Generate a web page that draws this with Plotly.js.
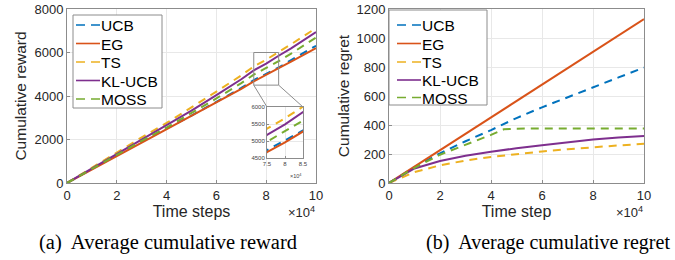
<!DOCTYPE html>
<html>
<head>
<meta charset="utf-8">
<script src="https://cdn.plot.ly/plotly-3.0.1.min.js"></script>
<style>html,body{margin:0;padding:0;background:#fff;}#chart{width:675px;height:260px;}</style>
</head>
<body>
<div id="chart"></div>
<script>
// ---- Data (time steps in units of 1e4) ----
const seriesNames = ["UCB", "EG", "TS", "KL-UCB", "MOSS"];
const seriesColors = ["#0072BD", "#D95319", "#EDB120", "#7E2F8E", "#77AC30"];
const seriesDashed = [true, false, true, false, true];

const tReward = [0, 1, 2, 3, 4, 5, 6, 7, 7.5, 8, 8.5, 9, 10];
const rewardUCB  = [0, 650, 1300, 1910, 2490, 3100, 3730, 4370, 4730, 5020, 5310, 5650, 6310];
const rewardEG   = [0, 620, 1240, 1860, 2460, 3080, 3700, 4330, 4670, 4960, 5280, 5580, 6200];
const rewardTS   = [0, 700, 1410, 2100, 2760, 3470, 4200, 4950, 5360, 5670, 6010, 6380, 7120];
const rewardKL   = [0, 660, 1330, 1990, 2640, 3330, 4040, 4770, 5180, 5490, 5850, 6190, 6940];
const rewardMOSS = [0, 650, 1300, 1940, 2550, 3210, 3890, 4590, 4980, 5290, 5600, 5950, 6690];

const tRegret = [0, 1, 2, 3, 4, 4.5, 5, 6, 7, 8, 9, 10];
const regretUCB  = [0, 110, 205, 288, 365, 408, 448, 522, 592, 660, 728, 796];
const regretEG   = [0, 113, 226, 339, 452, 508, 565, 678, 791, 904, 1017, 1130];
const regretTS   = [0, 75, 122, 155, 180, 190, 200, 217, 233, 248, 259, 270];
const regretKL   = [0, 100, 152, 188, 215, 228, 240, 261, 282, 300, 314, 325];
const regretMOSS = [0, 105, 195, 262, 332, 370, 375, 376, 376, 376, 376, 376];

const xTicks = [0, 2, 4, 6, 8, 10];
const rewardTicks = [0, 2000, 4000, 6000, 8000];
const regretTicks = [0, 200, 400, 600, 800, 1000, 1200];
const insetXTicks = [7.5, 8, 8.5];
const insetYTicks = [4500, 5000, 5500, 6000];
const captions = ["(a)  Average cumulative reward", "(b)  Average cumulative regret"];

const rewards = [rewardUCB, rewardEG, rewardTS, rewardKL, rewardMOSS];
const regrets = [regretUCB, regretEG, regretTS, regretKL, regretMOSS];

// ---- Layout geometry (paper fractions from pixels) ----
const W = 675, H = 260;
const px = v => v / W, py = v => 1 - v / H;
const dom1 = [px(67), px(316)];
const dom2 = [px(389), px(644)];
const domY = [py(183), py(9)];
const domIX = [px(267), px(303)];
const domIY = [py(158), py(107)];
const mainXRange = [0, 10], rewardRange = [0, 8000], regretRange = [0, 1200];
const insetXRange = [7.5, 8.5], insetYRange = [4500, 6000];

const SANS = "Liberation Sans, Arial, sans-serif";
const SERIF = "Liberation Serif, Times New Roman, serif";
const mainDash = "8px,6px";

const traces = [];
const addSet = (xs, ys, xa, ya) => seriesNames.forEach((name, i) => {
  traces.push({x: xs, y: ys[i], name: name, mode: "lines", xaxis: xa, yaxis: ya, showlegend: false,
    line: {color: seriesColors[i], width: 2, dash: seriesDashed[i] ? mainDash : "solid"}});
});
addSet(tReward, rewards, "x", "y");
addSet(tRegret, regrets, "x2", "y2");
addSet(tReward, rewards, "x3", "y3");

const tickFont = {family: SANS, size: 13, color: "#262626"};
const axBase = {showline: true, mirror: true, linecolor: "#8c8c8c", linewidth: 1,
  showgrid: true, gridcolor: "#e8e8e8", zeroline: false, ticks: "inside", ticklen: 3,
  tickcolor: "#8c8c8c", tickfont: tickFont};
const smallTick = {family: SANS, size: 6, color: "#444"};

// map paper position to main-axis data coords for the zoom connector lines
const toX = p => mainXRange[0] + (p - dom1[0]) / (dom1[1] - dom1[0]) * (mainXRange[1] - mainXRange[0]);
const toY = p => rewardRange[0] + (p - domY[0]) / (domY[1] - domY[0]) * (rewardRange[1] - rewardRange[0]);

const shapes = [
  {type: "rect", xref: "x", yref: "y", x0: insetXRange[0], x1: insetXRange[1], y0: insetYRange[0], y1: insetYRange[1],
    line: {color: "#8c8c8c", width: 1}},
  {type: "line", xref: "x", yref: "y", x0: insetXRange[0], y0: insetYRange[0], x1: toX(domIX[0]), y1: toY(domIY[1]),
    line: {color: "#8c8c8c", width: 1}},
  {type: "line", xref: "x", yref: "y", x0: insetXRange[1], y0: insetYRange[0], x1: toX(domIX[1]), y1: toY(domIY[1]),
    line: {color: "#8c8c8c", width: 1}}
];
const annotations = [
  {text: "×10<sup>4</sup>", xref: "paper", yref: "paper", x: px(317), y: py(212), xanchor: "right", yanchor: "middle",
    showarrow: false, font: {family: SANS, size: 13, color: "#262626"}},
  {text: "×10<sup>4</sup>", xref: "paper", yref: "paper", x: px(645), y: py(212), xanchor: "right", yanchor: "middle",
    showarrow: false, font: {family: SANS, size: 13, color: "#262626"}},
  {text: "×10<sup>4</sup>", xref: "paper", yref: "paper", x: px(304), y: py(176), xanchor: "right", yanchor: "middle",
    showarrow: false, font: {family: SANS, size: 5.5, color: "#444"}},
  {text: captions[0], xref: "paper", yref: "paper", x: px(168), y: py(242), xanchor: "center", yanchor: "middle",
    showarrow: false, font: {family: SERIF, size: 20.5, color: "#000"}},
  {text: captions[1], xref: "paper", yref: "paper", x: px(548), y: py(242), xanchor: "center", yanchor: "middle",
    showarrow: false, font: {family: SERIF, size: 20, color: "#000"}}
];

// manual MATLAB-style legends (box, sample line, label) built from the series arrays
function addLegend(box, lineX0, lineX1, textX, rows) {
  shapes.push({type: "rect", xref: "paper", yref: "paper", x0: px(box[0]), x1: px(box[1]), y0: py(box[3]), y1: py(box[2]),
    line: {color: "#8c8c8c", width: 1}, fillcolor: "#fff", layer: "above"});
  seriesNames.forEach((name, i) => {
    shapes.push({type: "line", xref: "paper", yref: "paper", x0: px(lineX0), x1: px(lineX1), y0: py(rows[i]), y1: py(rows[i]),
      line: {color: seriesColors[i], width: 1.6, dash: seriesDashed[i] ? "9px,6px" : "solid"}, layer: "above"});
    annotations.push({text: name, xref: "paper", yref: "paper", x: px(textX), y: py(rows[i] + 0.5), xanchor: "left",
      yanchor: "middle", showarrow: false, font: {family: SANS, size: 15.5, color: "#000"}, borderpad: 0});
  });
}
addLegend([73, 162, 15, 108], 76, 100, 100, [25, 43.5, 62, 80.5, 99]);
addLegend([389, 487, 10, 105], 397, 421, 421, [25, 43.5, 62, 80, 97.5]);

const layout = {
  width: W, height: H, margin: {l: 0, r: 0, t: 0, b: 0},
  paper_bgcolor: "#fff", plot_bgcolor: "#fff", showlegend: false,
  xaxis: Object.assign({}, axBase, {domain: dom1, range: mainXRange, tickvals: xTicks, anchor: "y",
    title: {text: "Time steps", font: {family: SANS, size: 16, color: "#262626"}, standoff: 3}}),
  yaxis: Object.assign({}, axBase, {domain: domY, range: rewardRange, tickvals: rewardTicks, anchor: "x",
    title: {text: "Cumulative reward", font: {family: SANS, size: 15.5, color: "#262626"}, standoff: 4}}),
  xaxis2: Object.assign({}, axBase, {domain: dom2, range: mainXRange, tickvals: xTicks, anchor: "y2",
    title: {text: "Time step", font: {family: SANS, size: 16, color: "#262626"}, standoff: 3}}),
  yaxis2: Object.assign({}, axBase, {domain: domY, range: regretRange, tickvals: regretTicks, anchor: "x2",
    title: {text: "Cumulative regret", font: {family: SANS, size: 15.5, color: "#262626"}, standoff: 3}}),
  xaxis3: Object.assign({}, axBase, {domain: domIX, range: insetXRange, tickvals: insetXTicks, anchor: "y3",
    ticklen: 2, tickfont: smallTick}),
  yaxis3: Object.assign({}, axBase, {domain: domIY, range: insetYRange, tickvals: insetYTicks, anchor: "x3",
    ticklen: 2, tickfont: smallTick}),
  shapes: shapes,
  annotations: annotations
};

Plotly.newPlot("chart", traces, layout, {staticPlot: true, displayModeBar: false});
</script>
</body>
</html>
